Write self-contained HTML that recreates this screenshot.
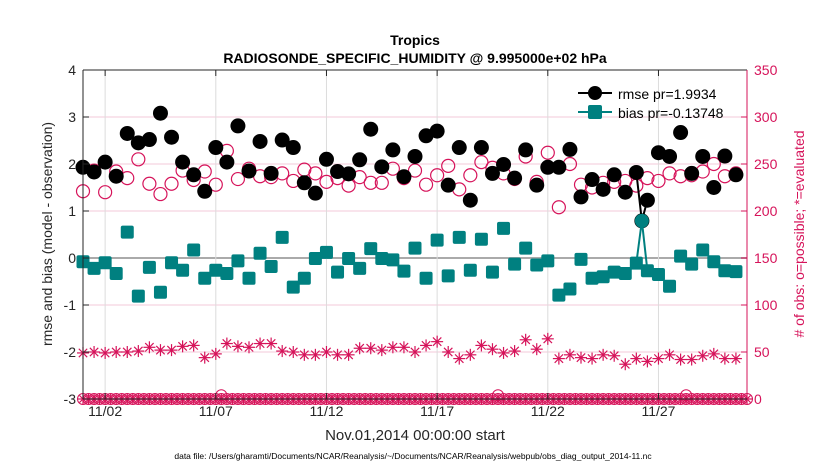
<!DOCTYPE html>
<html><head><meta charset="utf-8"><style>
body{margin:0;background:#fff;}
svg text{font-family:"Liberation Sans",Arial,sans-serif;}
</style></head><body>
<svg id="chart" width="830" height="470" viewBox="0 0 830 470" xmlns="http://www.w3.org/2000/svg">
<text x="415" y="45" text-anchor="middle" font-size="14" font-weight="bold">Tropics</text>
<text x="415" y="63" text-anchor="middle" font-size="14" font-weight="bold">RADIOSONDE_SPECIFIC_HUMIDITY @ 9.995000e+02 hPa</text>
<g id="grid"></g><g id="marks"></g><g id="axes"></g>
<text x="415" y="440" text-anchor="middle" font-size="15" fill="#262626">Nov.01,2014 00:00:00 start</text>
<text transform="translate(52,234) rotate(-90)" text-anchor="middle" font-size="14" fill="#262626">rmse and bias (model - observation)</text>
<text transform="translate(804,234) rotate(-90)" text-anchor="middle" font-size="14" fill="#d6135a"># of obs: o=possible; *=evaluated</text>
<text x="413" y="459" text-anchor="middle" font-size="8.5">data file: /Users/gharamti/Documents/NCAR/Reanalysis/~/Documents/NCAR/Reanalysis/webpub/obs_diag_output_2014-11.nc</text>
<g>
<line x1="578" y1="93" x2="612" y2="93" stroke="#000" stroke-width="2"/><circle cx="595" cy="93" r="7" fill="#000"/>
<text x="618" y="99" font-size="14">rmse pr=1.9934</text>
<line x1="578" y1="112" x2="612" y2="112" stroke="#008080" stroke-width="2"/><rect x="588" y="105" width="14" height="14" rx="2" fill="#008080"/>
<text x="618" y="118" font-size="14">bias pr=-0.13748</text>
</g>
</svg>
<script>
const rmse=[1.93,1.83,2.04,1.74,2.65,2.45,2.52,3.08,2.57,2.04,1.77,1.42,2.35,2.04,2.81,1.85,2.48,1.80,2.51,2.35,1.60,1.38,2.10,1.84,1.79,2.09,2.74,1.94,2.30,1.73,2.16,2.60,2.70,1.55,2.35,1.23,2.35,1.80,1.99,1.70,2.30,1.55,1.93,1.93,2.31,1.30,1.67,1.46,1.77,1.40,1.82,1.23,2.24,2.16,2.67,1.80,2.16,1.50,2.17,1.77];
const bias=[-0.08,-0.22,-0.10,-0.33,0.55,-0.81,-0.20,-0.73,-0.10,-0.26,0.17,-0.43,-0.26,-0.33,-0.06,-0.43,0.10,-0.18,0.44,-0.62,-0.43,-0.01,0.12,-0.30,-0.01,-0.22,0.20,-0.01,-0.04,-0.28,0.21,-0.43,0.38,-0.38,0.44,-0.26,0.40,-0.30,0.63,-0.13,0.21,-0.15,-0.06,-0.79,-0.66,-0.03,-0.43,-0.40,-0.30,-0.33,-0.11,-0.27,-0.35,-0.60,0.04,-0.13,0.17,-0.08,-0.27,-0.29];
const possible=[221,243,220,242,235,255,229,218,229,243,233,242,228,264,234,245,237,236,240,232,244,240,231,235,227,236,230,230,245,235,243,228,238,248,223,238,252,246,240,234,258,231,262,204,250,228,225,230,231,232,227,235,232,240,237,238,242,250,237,240];
const evaluated=[49,50,49,50,50,51,55,52,52,56,57,44,48,59,56,55,59,59,51,50,47,47,50,47,47,54,54,52,55,55,50,57,61,50,43,47,57,53,49,51,63,53,64,43,47,44,43,47,46,37,43,40,43,47,42,42,46,48,43,43];
const extraDay=[25.25];
const extraRmse=[0.79];
const extraBias=[0.79];
const smallPossibleDays=[6.25,18.75,27.25];
const smallPossibleVals=[4,4,4];
const xTickDays=[1,6,11,16,21,26];
const xTickLabels=['11/02','11/07','11/12','11/17','11/22','11/27'];
const leftTicks=[-3,-2,-1,0,1,2,3,4];
const rightTicks=[0,50,100,150,200,250,300,350];

const L=83,R=747,T=70,B=399;
const X=d=>L+(d/30)*(R-L);
const Y=v=>B-(v+3)/7*(B-T);
const YR=v=>B-v/350*(B-T);
const NS='http://www.w3.org/2000/svg';
function mk(tag,attrs,parent){const e=document.createElementNS(NS,tag);for(const k in attrs)e.setAttribute(k,attrs[k]);parent.appendChild(e);return e;}
const grid=document.getElementById('grid'),marks=document.getElementById('marks'),axes=document.getElementById('axes');
leftTicks.forEach(v=>{const l=mk('line',{x1:L,x2:R,y1:Y(v),y2:Y(v),stroke:v===0?'#aaa':'#f3c9d8','stroke-width':v===0?2:1},grid);
});
xTickDays.forEach((d,i)=>{const l=mk('line',{x1:X(d),x2:X(d),y1:T,y2:B,stroke:'#dcdcdc','stroke-width':1},grid);

const t=mk('text',{x:X(d),y:416,'text-anchor':'middle','font-size':14,fill:'#262626'},axes);t.textContent=xTickLabels[i];

mk('line',{x1:X(d),x2:X(d),y1:B,y2:B-6,stroke:'#262626'},axes);mk('line',{x1:X(d),x2:X(d),y1:T,y2:T+6,stroke:'#262626'},axes);});
leftTicks.forEach(v=>{const t=mk('text',{x:L-7,y:Y(v)+5,'text-anchor':'end','font-size':14,fill:'#262626'},axes);t.textContent=v;

mk('line',{x1:L,x2:L+6,y1:Y(v),y2:Y(v),stroke:'#262626'},axes);});
rightTicks.forEach(v=>{const t=mk('text',{x:R+7,y:YR(v)+5,'font-size':14,fill:'#d6135a'},axes);t.textContent=v;

mk('line',{x1:R,x2:R-6,y1:YR(v),y2:YR(v),stroke:'#d6135a'},axes);});
mk('line',{x1:L,x2:L,y1:T,y2:B,stroke:'#262626'},axes);
mk('line',{x1:L,x2:R,y1:T,y2:T,stroke:'#262626'},axes);
mk('line',{x1:R,x2:R,y1:T,y2:B,stroke:'#d6135a'},axes);
mk('line',{x1:L,x2:R,y1:B,y2:B,stroke:'#262626'},axes);
const red='#d6135a';
function star(x,y,g,s){const r=s;[[r,0],[0,r],[r*0.7,r*0.7],[r*0.7,-r*0.7]].forEach(([a,b])=>mk('line',{x1:x-a,y1:y-b,x2:x+a,y2:y+b,stroke:red,'stroke-width':1.2},g));}
const zg=mk('g',{},marks);
mk('line',{x1:L,x2:R,y1:YR(0),y2:YR(0),stroke:red,'stroke-width':1.5},zg);
for(let q=0;q<=120;q++){const d=q/4;mk('circle',{cx:X(d),cy:YR(0),r:5.5,fill:'none',stroke:red,'stroke-width':1},zg);star(X(d),YR(0),zg,5);}
smallPossibleDays.forEach((d,i)=>{const c=mk('circle',{cx:X(d),cy:YR(smallPossibleVals[i]),r:5.5,fill:'none',stroke:red,'stroke-width':1},zg);
});
evaluated.forEach((v,i)=>{const g=mk('g',{},marks);star(X(i/2),YR(v),g,6);});
possible.forEach((v,i)=>{const c=mk('circle',{cx:X(i/2),cy:YR(v),r:6.5,fill:'none',stroke:red,'stroke-width':1.2},marks);
});
const ed=extraDay[0];
const lr=mk('polyline',{points:`${X(25)},${Y(rmse[50])} ${X(ed)},${Y(extraRmse[0])} ${X(25.5)},${Y(rmse[51])}`,fill:'none',stroke:'#000','stroke-width':2},marks);

rmse.forEach((v,i)=>{const c=mk('circle',{cx:X(i/2),cy:Y(v),r:7.5,fill:'#000'},marks);
});
mk('circle',{cx:X(ed),cy:Y(extraRmse[0]),r:7.5,fill:'#000'},marks);
const lb=mk('polyline',{points:`${X(25)},${Y(bias[50])} ${X(ed)},${Y(extraBias[0])} ${X(25.5)},${Y(bias[51])}`,fill:'none',stroke:'#008080','stroke-width':2},marks);

bias.forEach((v,i)=>{const r=mk('rect',{x:X(i/2)-6.5,y:Y(v)-6.5,width:13,height:13,rx:2,fill:'#008080'},marks);
});
mk('circle',{cx:X(ed),cy:Y(extraBias[0]),r:7,fill:'#008080'},marks);
</script>
</body></html>
